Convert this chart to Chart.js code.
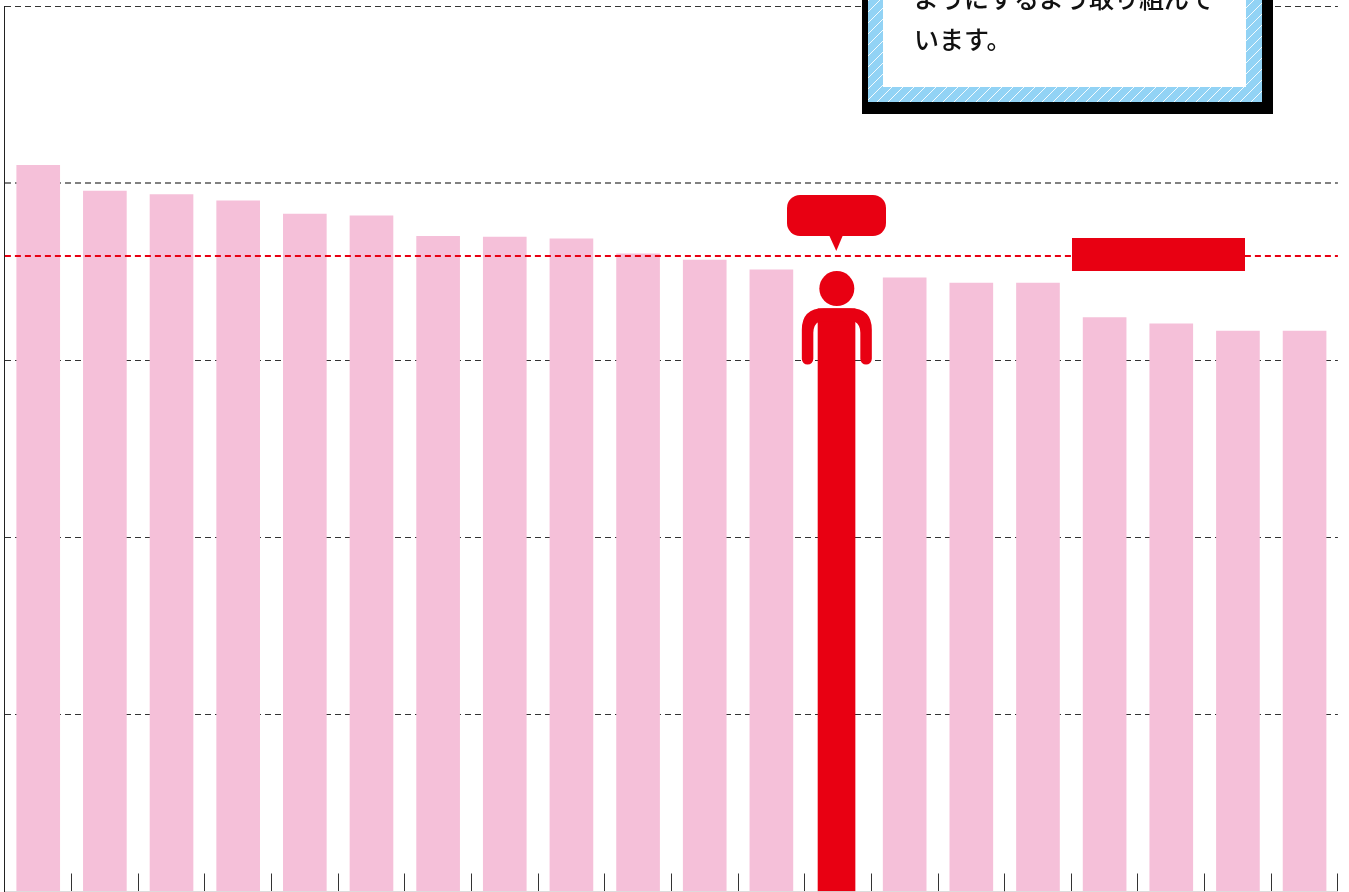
<!DOCTYPE html>
<html><head><meta charset="utf-8">
<style>html,body{margin:0;padding:0;background:#fff;overflow:hidden}#wrap{position:absolute;left:0;top:0;width:1349px;height:892px}</style>
<script src="https://cdn.jsdelivr.net/npm/chart.js@4"></script>
</head><body><div id="wrap"><canvas id="c" width="1349" height="892"></canvas></div>
<script>
const categories = ['1','2','3','4','5','6','7','8','9','10','11','12','13','14','15','16','17','18','19','20'];
const pinkValues = [82.0,79.1,78.7,78.0,76.5,76.3,74.0,73.9,73.7,72.0,71.3,70.2,null,69.3,68.7,68.7,64.8,64.1,63.3,63.3];
const highlightValues = [null,null,null,null,null,null,null,null,null,null,null,null,65.8,null,null,null,null,null,null,null];
const referenceValue = 71.8;
const yTicks = [0,20,40,60,80,100];
const noteLines = ['ようにするよう取り組んで','います。'];

const RED='#e80012', PINK='#f5c0d9';

const decor = {
  id:'decor',
  afterDatasetsUpdate(chart){
    const bar=chart.getDatasetMeta(1).data[12];
    bar.x-=1.5;
  },
  afterDatasetsDraw(chart){
    const {ctx,chartArea:a,scales:{y}} = chart;
    ctx.save();
    ctx.strokeStyle=RED; ctx.lineWidth=2; ctx.setLineDash([6,4]);
    const ry=Math.round(y.getPixelForValue(referenceValue));
    ctx.beginPath(); ctx.moveTo(a.left,ry); ctx.lineTo(a.right,ry); ctx.stroke();
    ctx.setLineDash([]);

    const bar=chart.getDatasetMeta(1).data[12];
    const cx=bar.x+0.3, top=bar.y;
    ctx.fillStyle=RED;
    ctx.beginPath(); ctx.arc(cx,top-20.3,17.5,0,Math.PI*2); ctx.fill();
    ctx.beginPath();
    ctx.moveTo(cx-35,top+50);
    ctx.lineTo(cx-35,top+21);
    ctx.quadraticCurveTo(cx-35,top-0.5,cx-13,top-0.5);
    ctx.lineTo(cx+13,top-0.5);
    ctx.quadraticCurveTo(cx+35,top-0.5,cx+35,top+21);
    ctx.lineTo(cx+35,top+50);
    ctx.arc(cx+29.25,top+50,5.75,0,Math.PI);
    ctx.lineTo(cx+23.5,top+24);
    ctx.quadraticCurveTo(cx+23.5,top+16,cx+18,top+13);
    ctx.lineTo(cx-18,top+13);
    ctx.quadraticCurveTo(cx-23.5,top+16,cx-23.5,top+24);
    ctx.lineTo(cx-23.5,top+50);
    ctx.arc(cx-29.25,top+50,5.75,0,Math.PI);
    ctx.closePath(); ctx.fill();

    ctx.beginPath(); ctx.roundRect(787,195,99,41,13); ctx.fill();
    ctx.beginPath(); ctx.moveTo(829,235); ctx.lineTo(843,235); ctx.lineTo(836.3,251); ctx.closePath(); ctx.fill();

    ctx.fillRect(1072,238,173,33);

    ctx.fillStyle='#000'; ctx.fillRect(862,0,411,114);
    const p=document.createElement('canvas'); p.width=11; p.height=11;
    const g=p.getContext('2d'); g.fillStyle='#92d3f5'; g.fillRect(0,0,11,11);
    g.strokeStyle='#fff'; g.lineWidth=0.9;
    g.beginPath(); g.moveTo(-1,12); g.lineTo(12,-1); g.stroke();
    g.beginPath(); g.moveTo(-1,1); g.lineTo(1,-1); g.moveTo(10,12); g.lineTo(12,10); g.stroke();
    ctx.fillStyle=ctx.createPattern(p,'repeat'); ctx.fillRect(868,0,394,102);
    ctx.fillStyle='#fff'; ctx.fillRect(883,0,363,87);
    ctx.fillStyle='#111'; ctx.font='500 25px "Noto Sans CJK JP"'; ctx.textBaseline='alphabetic';
    ctx.fillText(noteLines[0],914,8);
    ctx.fillText(noteLines[1],914,49);
    ctx.restore();
  }
};

new Chart(document.getElementById('c'),{
  data:{labels:categories,datasets:[
    {type:'bar',data:pinkValues,backgroundColor:PINK,barThickness:43,grouped:false},
    {type:'bar',data:highlightValues,backgroundColor:RED,barThickness:37,grouped:false}
  ]},
  plugins:[decor],
  options:{
    responsive:false,animation:false,
    layout:{padding:{left:4.9,right:11.1,top:6,bottom:0.5}},
    plugins:{legend:{display:false},tooltip:{enabled:false}},
    scales:{
      x:{
        ticks:{display:false},
        afterFit(s){s.height=0;},
        grid:{drawOnChartArea:false,drawTicks:true,tickLength:-18,color:'#333',lineWidth:1},
        border:{display:true,color:'#dcdcdc',width:1}
      },
      y:{
        min:0,max:100,
        afterBuildTicks(s){s.ticks=yTicks.map(v=>({value:v}));},
        afterFit(s){s.width=0;},
        ticks:{display:false},
        grid:{drawTicks:false,
          lineWidth(c){return c.tick&&c.tick.value===80?2:1;},
          color(c){const v=c.tick&&c.tick.value;return v===80?'#808080':v===0?'rgba(0,0,0,0)':'#333';}},
        border:{display:true,color:'#222',width:1,dash:[6,4]}
      }
    }
  }
});
</script></body></html>
